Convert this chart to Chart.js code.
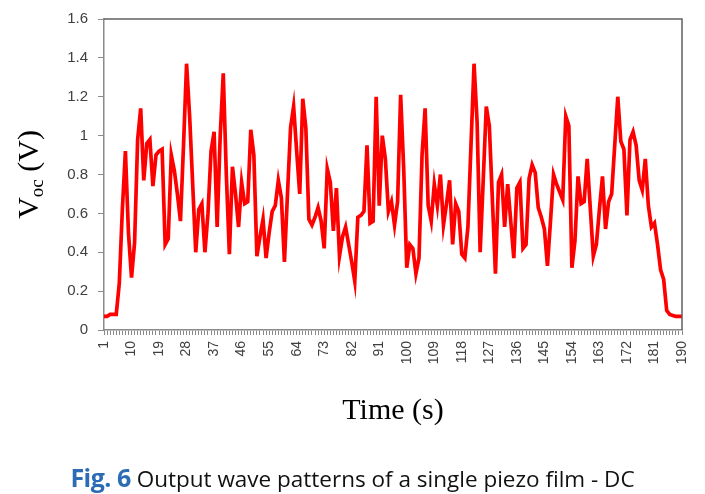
<!DOCTYPE html>
<html>
<head>
<meta charset="utf-8">
<script src="https://cdn.jsdelivr.net/npm/chart.js@4.4.1/dist/chart.umd.min.js"></script>
<style>
  html, body { margin: 0; padding: 0; background: #ffffff; }
  #wrap { position: relative; width: 705px; height: 494px; overflow: hidden; }
  #c { position: absolute; left: 0; top: 0; }
  #cap { position: absolute; left: 0; width: 705px; text-align: center; top: 465px; white-space: nowrap; line-height: 1;
         font-family: "Open Sans", "Noto Sans", sans-serif; font-size: 22.5px; color: #111; }
  #cap b { color: #2b6cb5; font-size: 25px; font-weight: 700; letter-spacing: -0.5px; }
</style>
</head>
<body>
<div id="wrap">
  <canvas id="c" width="705" height="494"></canvas>
  <div id="cap"><b>Fig. 6</b> Output wave patterns of a single piezo film - DC</div>
</div>
<script>
// ---- data ----
const timeLabels = Array.from({length: 190}, (_, i) => String(i + 1));
const vocValues = [
  0.07, 0.07, 0.08, 0.08, 0.08, 0.24, 0.62, 0.92, 0.50, 0.27,
  0.45, 0.98, 1.14, 0.77, 0.96, 0.98, 0.74, 0.90, 0.92, 0.93,
  0.44, 0.47, 0.90, 0.82, 0.70, 0.56, 0.95, 1.37, 1.10, 0.75,
  0.40, 0.62, 0.65, 0.40, 0.60, 0.92, 1.02, 0.53, 1.00, 1.32,
  0.80, 0.39, 0.84, 0.70, 0.53, 0.76, 0.65, 0.66, 1.03, 0.90,
  0.38, 0.48, 0.57, 0.37, 0.50, 0.61, 0.64, 0.77, 0.68, 0.35,
  0.70, 1.04, 1.15, 0.92, 0.70, 1.19, 1.04, 0.57, 0.54, 0.58,
  0.63, 0.56, 0.42, 0.83, 0.76, 0.51, 0.73, 0.38, 0.48, 0.53,
  0.44, 0.35, 0.25, 0.58, 0.59, 0.61, 0.95, 0.55, 0.56, 1.20,
  0.64, 1.00, 0.88, 0.61, 0.66, 0.54, 0.66, 1.21, 0.83, 0.32,
  0.44, 0.42, 0.29, 0.37, 0.90, 1.14, 0.64, 0.56, 0.75, 0.64,
  0.80, 0.54, 0.65, 0.77, 0.44, 0.65, 0.61, 0.39, 0.37, 0.53,
  0.95, 1.37, 1.07, 0.40, 0.77, 1.15, 1.05, 0.67, 0.29, 0.76,
  0.80, 0.53, 0.75, 0.56, 0.37, 0.73, 0.76, 0.42, 0.44, 0.78,
  0.85, 0.81, 0.63, 0.58, 0.52, 0.33, 0.56, 0.80, 0.75, 0.71,
  0.67, 1.10, 1.05, 0.32, 0.46, 0.79, 0.65, 0.66, 0.88, 0.63,
  0.38, 0.44, 0.62, 0.79, 0.52, 0.66, 0.70, 0.95, 1.20, 0.97,
  0.93, 0.59, 0.98, 1.02, 0.95, 0.77, 0.72, 0.88, 0.64, 0.53,
  0.55, 0.44, 0.31, 0.26, 0.10, 0.08, 0.075, 0.07, 0.07, 0.07
];
const yTickMin = 0, yTickMax = 1.6, yTickStep = 0.2;
const xLabelEvery = 9;
const yTitleMain = "V", yTitleSub = "oc", yTitleRest = " (V)";
const xTitleText = "Time (s)";

// ---- drawing ----
const frame = {
  id: 'frame',
  afterDatasetsDraw(chart) {
    const {ctx, chartArea: a} = chart;
    ctx.save();
    ctx.strokeStyle = '#606060';
    ctx.lineWidth = 1.5;
    ctx.beginPath();
    ctx.moveTo(a.left, a.top); ctx.lineTo(a.right, a.top); ctx.lineTo(a.right, a.bottom);
    ctx.stroke();
    ctx.restore();
  },
  afterDraw(chart) {
    const {ctx, chartArea: a} = chart;
    ctx.save();
    ctx.fillStyle = '#000';
    // y title, rotated
    ctx.translate(28, (a.top + a.bottom) / 2);
    ctx.rotate(-Math.PI / 2);
    const f1 = '30px "Liberation Serif", "Times New Roman", serif';
    const f2 = '19px "Liberation Serif", "Times New Roman", serif';
    ctx.font = f1; const w1 = ctx.measureText(yTitleMain).width;
    ctx.font = f2; const w2 = ctx.measureText(yTitleSub).width;
    ctx.font = f1; const w3 = ctx.measureText(yTitleRest).width;
    let x = -(w1 + w2 + w3) / 2;
    ctx.textBaseline = 'alphabetic';
    ctx.font = f1; ctx.fillText(yTitleMain, x, 10); x += w1;
    ctx.font = f2; ctx.fillText(yTitleSub, x, 15); x += w2;
    ctx.font = f1; ctx.fillText(yTitleRest, x, 10);
    ctx.restore();
    // x title
    ctx.save();
    ctx.fillStyle = '#000';
    ctx.font = '30px "Liberation Serif", "Times New Roman", serif';
    ctx.textAlign = 'center';
    ctx.textBaseline = 'alphabetic';
    ctx.fillText(xTitleText, (a.left + a.right) / 2, 419);
    ctx.restore();
  }
};

new Chart(document.getElementById('c'), {
  type: 'line',
  data: {
    labels: timeLabels,
    datasets: [{
      data: vocValues,
      borderColor: '#ff0000',
      borderWidth: 3.7,
      pointRadius: 0,
      tension: 0,
      fill: false
    }]
  },
  options: {
    responsive: false,
    animation: false,
    events: [],
    layout: { padding: { left: 0, right: 23, top: 16, bottom: 0 } },
    plugins: { legend: { display: false }, tooltip: { enabled: false }, title: { display: false } },
    scales: {
      x: {
        type: 'category',
        offset: false,
        afterFit(s) { s.height = 164; },
        border: { display: true, color: '#8a8a8a', width: 1.5 },
        grid: { drawOnChartArea: false, drawTicks: true, tickLength: 5, color: '#8a8a8a', lineWidth: 1 },
        ticks: {
          autoSkip: false,
          maxRotation: 90, minRotation: 90,
          padding: 6,
          color: '#404040',
          font: { family: '"Liberation Sans", Arial, sans-serif', size: 14 },
          callback(v, i) { return (i % xLabelEvery === 0) ? timeLabels[i] : ''; }
        }
      },
      y: {
        min: yTickMin, max: yTickMax,
        afterFit(s) { s.width = 104; },
        border: { display: true, color: '#8a8a8a', width: 1.5 },
        grid: { drawOnChartArea: false, drawTicks: true, tickLength: 6, color: '#8a8a8a' },
        ticks: {
          stepSize: yTickStep,
          padding: 10,
          color: '#404040',
          font: { family: '"Liberation Sans", Arial, sans-serif', size: 15 },
          callback(v) { return String(parseFloat(v.toFixed(1))); }
        }
      }
    }
  },
  plugins: [frame]
});
</script>
</body>
</html>
